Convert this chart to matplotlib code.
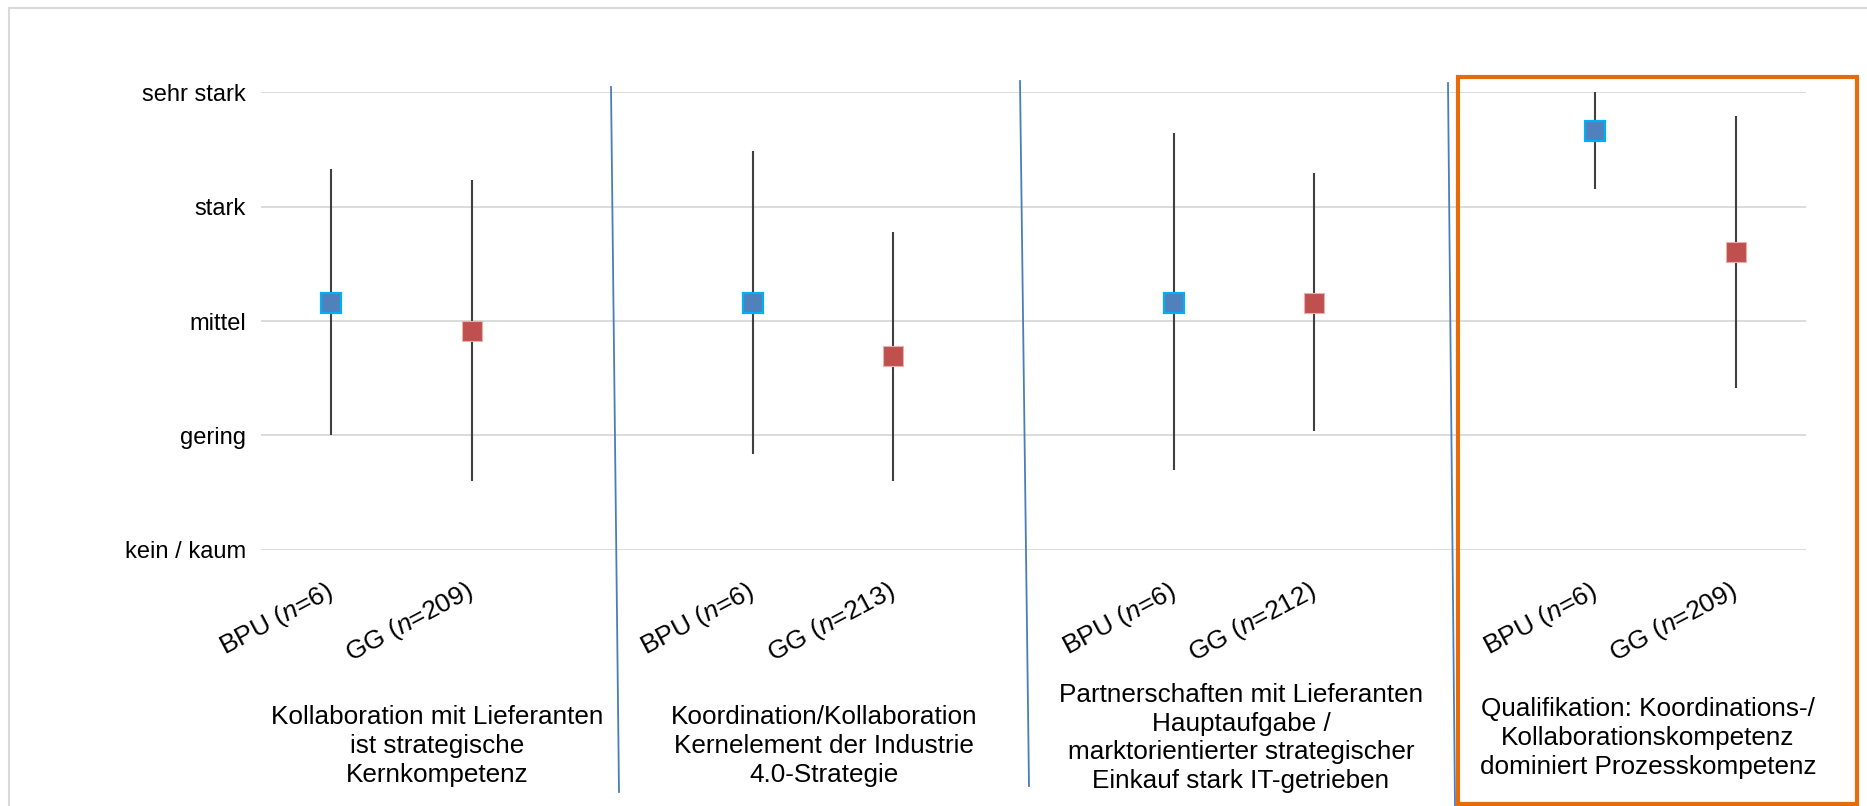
import matplotlib
matplotlib.use("Agg")
import matplotlib.pyplot as plt
from matplotlib.lines import Line2D
from matplotlib.patches import Rectangle

plt.rcParams["font.family"] = ["Liberation Sans", "DejaVu Sans"]
plt.rcParams["mathtext.fontset"] = "custom"
plt.rcParams["mathtext.it"] = "Liberation Sans:italic"
plt.rcParams["mathtext.rm"] = "Liberation Sans"

# Data (1 = kein / kaum ... 5 = sehr stark)
levels = ["kein / kaum", "gering", "mittel", "stark", "sehr stark"]
groups = [
    "Kollaboration mit Lieferanten\nist strategische\nKernkompetenz",
    "Koordination/Kollaboration\nKernelement der Industrie\n4.0-Strategie",
    "Partnerschaften mit Lieferanten\nHauptaufgabe /\nmarktorientierter strategischer\nEinkauf stark IT-getrieben",
    "Qualifikation: Koordinations-/\nKollaborationskompetenz\ndominiert Prozesskompetenz",
]
n_bpu = [6, 6, 6, 6]
n_gg = [209, 213, 212, 209]

bpu_mean = [3.16, 3.16, 3.16, 4.66]
bpu_low = [2.00, 1.84, 1.70, 4.15]
bpu_high = [4.33, 4.49, 4.64, 5.00]

gg_mean = [2.91, 2.69, 3.16, 3.60]
gg_low = [1.60, 1.60, 2.04, 2.41]
gg_high = [4.23, 3.78, 4.29, 4.79]

W, H = 1867, 806
fig = plt.figure(figsize=(W / 100, H / 100), dpi=100)


def fx(x):
    return x / W


def fy(y):
    return 1 - y / H


ax = fig.add_axes([fx(261), fy(549.7), fx(1806) - fx(261), fy(92.3) - fy(549.7)])

# category slots: two per group, one empty slot between groups
x_bpu = [3 * i for i in range(len(groups))]
x_gg = [3 * i + 1 for i in range(len(groups))]

ax.vlines(x_bpu, bpu_low, bpu_high, color="#404040", lw=1.5, zorder=2)
ax.vlines(x_gg, gg_low, gg_high, color="#404040", lw=1.5, zorder=2)
ax.plot(x_bpu, bpu_mean, ls="none", marker="s", ms=14, mfc="#4F81BD",
        mec="#00B0F0", mew=1.6, zorder=3)
ax.plot(x_gg, gg_mean, ls="none", marker="s", ms=14, mfc="#C0504D",
        mec="#E6B0AE", mew=0.8, zorder=3)

ax.set_xlim(-0.5, 3 * len(groups) - 1.5)
ax.set_ylim(1, 5)
ax.set_yticks(range(1, 6))
ax.set_yticklabels(levels, fontsize=17)
ax.yaxis.grid(True, color="#D9D9D9", lw=1.3)
ax.set_axisbelow(True)

ticks = []
labels = []
for i in range(len(groups)):
    ticks += [x_bpu[i], x_gg[i]]
    labels += [f"BPU ($n$={n_bpu[i]})", f"GG ($n$={n_gg[i]})"]
ax.set_xticks(ticks)
ax.set_xticklabels(labels, rotation=28, ha="right", va="center",
                   rotation_mode="anchor", fontsize=19)
ax.tick_params(axis="x", length=0, pad=29)
ax.tick_params(axis="y", length=0, pad=11)
for s in ax.spines.values():
    s.set_visible(False)

# group descriptions below the axis
desc_x = [437, 824, 1241, 1648]
desc_y = [746, 746, 738, 738]
for txt, x, y in zip(groups, desc_x, desc_y):
    fig.text(fx(x), fy(y), txt, ha="center", va="center", fontsize=18.8,
             linespacing=1.25)

# separators between the groups
for (x0, y0, x1, y1) in [(611, 87, 619, 792), (1020, 81, 1029, 786),
                         (1448, 83, 1455, 806)]:
    fig.add_artist(Line2D([fx(x0), fx(x1)], [fy(y0), fy(y1)],
                          color="#4A7EBB", lw=1.3))

# highlight box and outer frame
fig.add_artist(Rectangle((fx(1458), fy(804)), fx(1857) - fx(1458), fy(77) - fy(804),
                         fill=False, ec="#E46C0A", lw=3))
fig.add_artist(Rectangle((fx(9), fy(830)), fx(1900) - fx(9), fy(8) - fy(830),
                         fill=False, ec="#D9D9D9", lw=1.5))

fig.savefig("out.png", dpi=100)
